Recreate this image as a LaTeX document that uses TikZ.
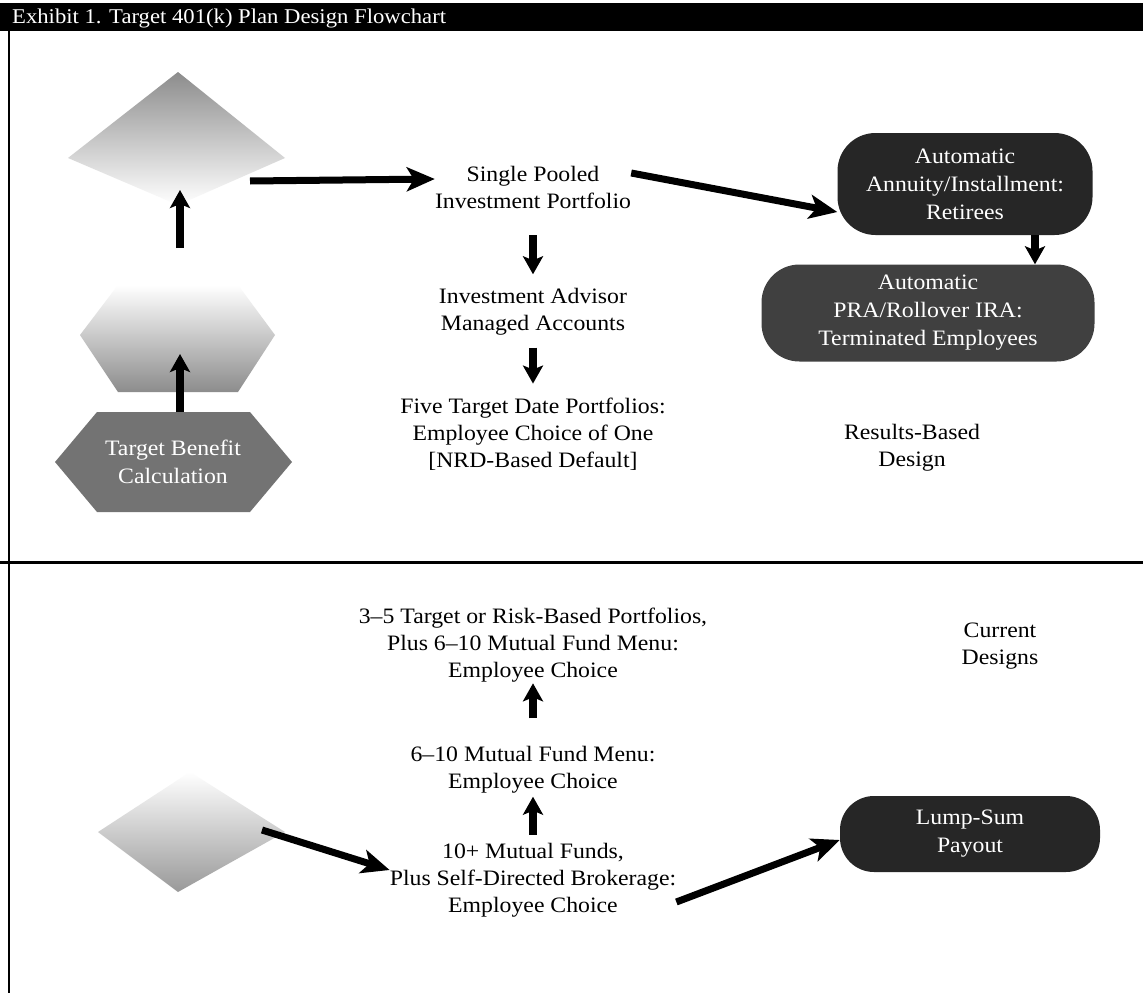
\documentclass[tikz,border=0pt]{standalone}
\usepackage{fontspec}
\setmainfont{Liberation Serif}[FakeStretch=1.08]
\usetikzlibrary{arrows.meta}
\begin{document}
\begin{tikzpicture}[x=1pt,y=-1pt,
  txt/.style={align=center,font=\fontsize{22}{27}\selectfont,inner sep=0pt},
  boxtxt/.style={align=center,text=white,font=\fontsize{22}{28}\selectfont,inner sep=0pt},
  pill/.style={draw=none,fill=black!85,rounded corners=38pt,text=white,align=center,font=\fontsize{22}{28}\selectfont,inner sep=0pt},
  bigarrow/.style={line width=7pt,-{Stealth[length=28pt,width=24pt,inset=7pt]}},
  midarrow/.style={line width=8pt,-{Stealth[length=18pt,width=20pt,inset=4pt]}},
]
\useasboundingbox (0,0) rectangle (1143,993);
\fill[white] (0,0) rectangle (1143,993);
% title bar
\fill[black] (0,3) rectangle (1143,31);
\node[anchor=west,text=white,font=\fontsize{21}{24}\selectfont,inner sep=0pt] (title) at (12,18) {Exhibit 1. Target 401(k) Plan Design Flowchart};
% left border
\draw[line width=2pt] (9,31) -- (9,993);
% separator
\draw[line width=3pt] (0,562) -- (1143,562);

% faded shapes on the left
\shade[top color=black!45,bottom color=white] (178,72) -- (285,158) -- (178,205) -- (68,158) -- cycle;
\shade[top color=white,bottom color=black!45] (80,335) -- (118,285) -- (238,285) -- (275,335) -- (238,392) -- (118,392) -- cycle;
\shade[top color=white,bottom color=black!40] (190,772) -- (285,832) -- (178,892) -- (98,832) -- cycle;
\coordinate (d1e) at (250,181);
\coordinate (d1b) at (180,190);
\coordinate (d2t) at (180,248);
\coordinate (d2b) at (180,354);
\coordinate (d3e) at (262,830);

% target benefit hexagon
\fill[black!55] (55,462) -- (97,412) -- (250,412) -- (292,462) -- (250,512) -- (97,512) -- cycle;
\node[boxtxt] (tbc) at (173,462) {Target Benefit\\Calculation};
\coordinate (tbct) at (180,412);

% results-based design
\node[txt] (pool) at (533,187) {Single Pooled\\Investment Portfolio};
\node[txt] (adv) at (533,312) {Investment Advisor\\Managed Accounts};
\node[txt] (five) at (533,434) {Five Target Date Portfolios:\\Employee Choice of One\\{[}NRD-Based Default{]}};
\node[txt] (results) at (912,448) {Results-Based\\Design};

\node[pill,minimum width=255pt,minimum height=102pt] (annu) at (965,184) {Automatic\\Annuity/Installment:\\Retirees};
\node[pill,fill=black!75,minimum width=333pt,minimum height=97pt] (pra) at (928,313) {Automatic\\PRA/Rollover IRA:\\Terminated Employees};

% current designs
\node[txt] (three) at (533,645) {3--5 Target or Risk-Based Portfolios,\\Plus 6--10 Mutual Fund Menu:\\Employee Choice};
\node[txt] (current) at (1000,646) {Current\\Designs};
\node[txt] (six) at (533,770) {6--10 Mutual Fund Menu:\\Employee Choice};
\node[txt] (ten) at (533,880) {10+ Mutual Funds,\\Plus Self-Directed Brokerage:\\Employee Choice};
\node[pill,minimum width=260pt,minimum height=76pt,rounded corners=34pt] (lump) at (970,834) {Lump-Sum\\Payout};

% connectors
\draw[bigarrow] (d1e) -- ([yshift=8pt]pool.west);
\draw[bigarrow] ([yshift=14pt]pool.east) -- ([yshift=-28pt]annu.west);
\draw[midarrow] ([xshift=70pt]annu.south) -- ([xshift=107pt]pra.north);
\draw[midarrow,shorten <=27pt,shorten >=14pt] (pool.south) -- (adv.north);
\draw[midarrow,shorten <=12pt,shorten >=14pt] (adv.south) -- (five.north);
\draw[midarrow] (tbct) -- (d2b);
\draw[midarrow] (d2t) -- (d1b);
\draw[midarrow,shorten <=8pt,shorten >=3pt] (ten.north) -- (six.south);
\draw[midarrow,shorten <=28pt,shorten >=1pt] (six.north) -- (three.south);
\draw[bigarrow] (d3e) -- ([yshift=10pt]ten.west);
\draw[bigarrow] ([yshift=-22pt]ten.east) -- ([yshift=-6pt]lump.west);
\end{tikzpicture}
\end{document}
